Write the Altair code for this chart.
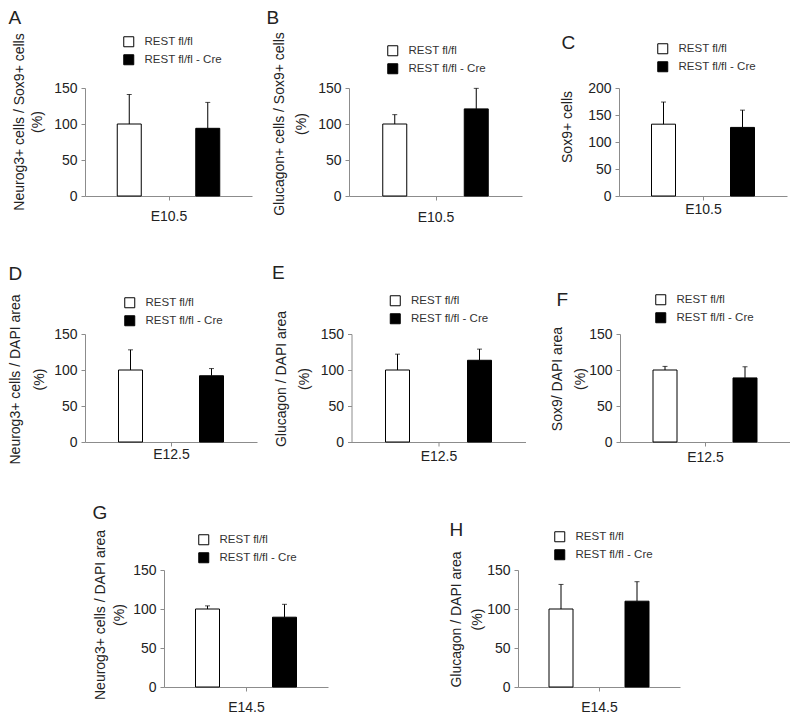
import altair as alt
import pandas as pd

# ---------------- data ----------------
panels = ["A", "B", "C", "D", "E", "F", "G", "H"]
stages = ["E10.5", "E10.5", "E10.5", "E12.5", "E12.5", "E12.5", "E14.5", "E14.5"]
y_titles = [
    "Neurog3+ cells / Sox9+ cells",
    "Glucagon+ cells / Sox9+ cells",
    "Sox9+ cells",
    "Neurog3+ cells / DAPI area",
    "Glucagon / DAPI area",
    "Sox9/ DAPI area",
    "Neurog3+ cells / DAPI area",
    "Glucagon / DAPI area",
]
y_units = ["(%)", "(%)", None, "(%)", "(%)", "(%)", "(%)", "(%)"]
groups = ["REST fl/fl", "REST fl/fl - Cre"]
ctrl_mean = [100, 100, 133, 100, 100, 100, 100, 100]
ctrl_err = [41, 13, 41, 28, 22, 5, 4, 31.5]
cre_mean = [94, 121, 127, 92, 113.5, 89, 89.5, 110]
cre_err = [36, 28.5, 32, 10, 15.5, 15.5, 16.5, 25]
y_max = [150, 150, 200, 150, 150, 150, 150, 150]
y_ticks = [[0, 50, 100, 150]] * 2 + [[0, 50, 100, 150, 200]] + [[0, 50, 100, 150]] * 5

# ---------------- layout / style ----------------
FONT = "Liberation Sans"
TXT = "#222222"
AX = "#8c8c8c"
widths = [167, 173, 168, 172, 174, 170, 164, 162]
heights = [108, 108, 108, 108, 108, 108, 117, 117]
# panel letter: left / top of glyph relative to plot origin
letter_x = [-77, -83, -58, -77, -80, -64, -72, -69]
letter_y = [-79.4, -79.4, -54.4, -69.4, -70.4, -43.4, -66.4, -49.4]
legend_cx = [43, 43, 43, 44, 43, 40, 39, 41]
legend_cy = [-47, -38, -40, -32, -34, -35, -31, -34]
# y title lines: centre x of each line relative to plot left, centre along axis
line1_cx = [-65, -69, -51, -69, -70, -62, -63, -61]
line2_cx = [-47, -47, -47, -45, -47, -39, -44, -40]
ytitle_y = [33.5, 35.5, 38.5, 45, 44.5, 44.5, 44.5, 49]
xtitle_gap = [20, 21, 13, 12, 13.5, 15, 20, 20]


def plain_axis(**kw):
    return alt.Axis(orient="left", domain=False, ticks=False, labels=False, grid=False, **kw)


def panel(i):
    df = pd.DataFrame({
        "group": groups,
        "pos": [1, 3],
        "mean": [ctrl_mean[i], cre_mean[i]],
        "upper": [ctrl_mean[i] + ctrl_err[i], cre_mean[i] + cre_err[i]],
    })
    base = alt.Chart(df)
    xscale = alt.Scale(domain=[0, 4], nice=False, zero=False)
    yscale = alt.Scale(domain=[0, y_max[i]], nice=False)
    x_axis = alt.Axis(values=[2], labels=False, ticks=True, tickSize=4, grid=False,
                      title=stages[i], titlePadding=max(0, xtitle_gap[i] - 11))
    y_axis = alt.Axis(orient="left", values=y_ticks[i], tickSize=4, labelPadding=4, grid=False,
                      title=y_titles[i], titleX=line1_cx[i] + 6.5, titleY=ytitle_y[i],
                      titleAngle=270, titleBaseline="bottom", titleAlign="center")
    letter_axis = plain_axis(title=panels[i], titleX=letter_x[i], titleY=letter_y[i],
                             titleAngle=0, titleAlign="left", titleBaseline="top",
                             titleFontSize=19)
    if y_units[i]:
        unit_axis = plain_axis(title=y_units[i], titleX=line2_cx[i] + 6.5, titleY=ytitle_y[i],
                               titleAngle=270, titleBaseline="bottom", titleAlign="center")
    else:
        unit_axis = None
    X = alt.X("pos:Q", scale=xscale, axis=x_axis)
    bars = base.mark_bar(size=24, stroke="black", strokeWidth=1).encode(
        x=X,
        y=alt.Y("mean:Q", scale=yscale, axis=y_axis),
        color=alt.Color(
            "group:N",
            scale=alt.Scale(domain=groups, range=["white", "black"]),
            legend=alt.Legend(
                title=None, orient="none",
                legendX=legend_cx[i] - 5, legendY=legend_cy[i] - 5,
                symbolType="square", symbolSize=100,
                symbolStrokeColor="black", symbolStrokeWidth=1,
                labelFont=FONT, labelFontSize=11.5, labelColor="#333333",
                labelOffset=10, rowPadding=3, padding=0,
            ),
        ),
    )
    rule = base.mark_rule(color="black", strokeWidth=1).encode(
        x=X,
        y=alt.Y("mean:Q", scale=yscale, axis=letter_axis),
        y2="upper:Q",
    )
    cap = base.mark_tick(color="black", orient="horizontal", size=5, thickness=1).encode(
        x=X,
        y=alt.Y("upper:Q", scale=yscale, axis=unit_axis),
    )
    return alt.layer(bars, rule, cap).resolve_axis(y="independent").properties(
        width=widths[i], height=heights[i],
    )


def indep(c):
    return c.resolve_scale(x="independent", y="independent", color="independent").resolve_legend(
        color="independent")


row1 = indep(alt.hconcat(panel(0), panel(1), panel(2), spacing=97, bounds="flush"))
row2 = indep(alt.hconcat(panel(3), panel(4), panel(5), spacing=94.5, bounds="flush"))
spacer = alt.Chart(pd.DataFrame({"v": [0]})).mark_point(opacity=0).encode(
    x=alt.value(0), y=alt.value(0)).properties(width=39, height=10)
inner3 = indep(alt.hconcat(panel(6), panel(7), spacing=190, bounds="flush"))
row3 = indep(alt.hconcat(spacer, inner3, spacing=40, bounds="flush"))

chart = indep(alt.vconcat(row1, row2, row3, spacing=38)).properties(
    padding=0, background="white"
).configure_view(stroke=None).configure_axis(
    labelFont=FONT, labelFontSize=14, labelColor=TXT,
    titleFont=FONT, titleFontSize=14, titleColor=TXT, titleFontWeight="normal",
    domainColor=AX, tickColor=AX, domainWidth=1, tickWidth=1,
)

chart.save("out.html", embed_options={"renderer": "svg", "actions": False})
